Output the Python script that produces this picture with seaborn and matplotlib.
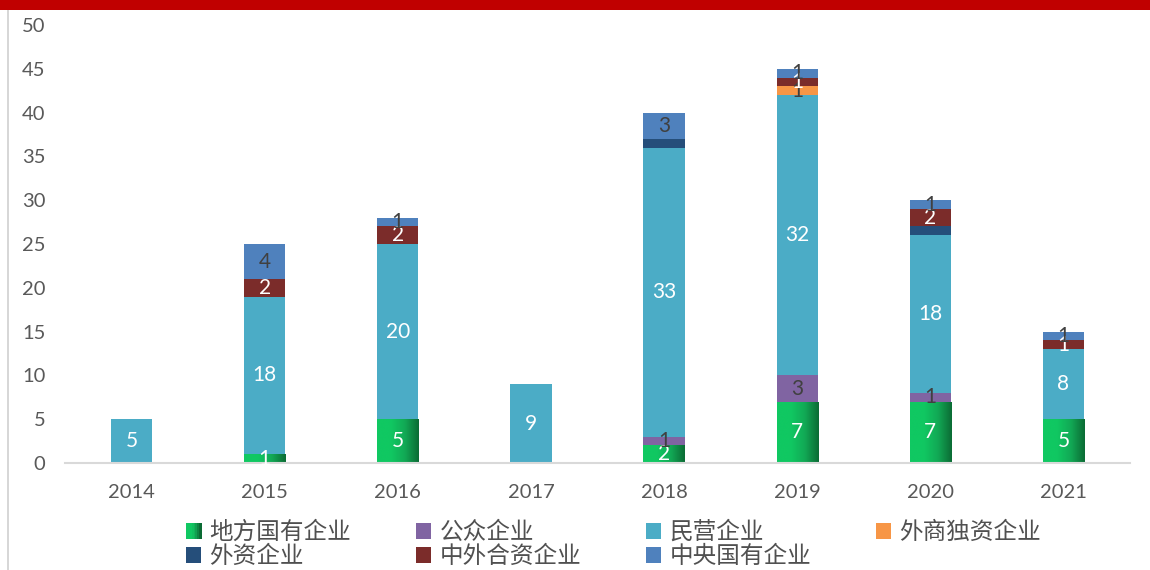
import numpy as np
import matplotlib
matplotlib.use("Agg")
import matplotlib.pyplot as plt
from matplotlib.patches import Rectangle, Patch
from matplotlib.lines import Line2D
from matplotlib.legend_handler import HandlerPatch
import seaborn as sns

# ---- data -------------------------------------------------------------
years = ["2014", "2015", "2016", "2017", "2018", "2019", "2020", "2021"]
series_names = ["地方国有企业", "公众企业", "民营企业", "外商独资企业",
                "外资企业", "中外合资企业", "中央国有企业"]
local_soe   = [0, 1, 5, 0, 2, 7, 7, 5]
public_co   = [0, 0, 0, 0, 1, 3, 1, 0]
private_co  = [5, 18, 20, 9, 33, 32, 18, 8]
wfoe        = [0, 0, 0, 0, 0, 1, 0, 0]
foreign_co  = [0, 0, 0, 0, 1, 0, 1, 0]
jv_co       = [0, 2, 2, 0, 0, 1, 2, 1]
central_soe = [0, 4, 1, 0, 3, 1, 1, 1]
y_ticks = [0, 5, 10, 15, 20, 25, 30, 35, 40, 45, 50]

series_values = [local_soe, public_co, private_co, wfoe, foreign_co, jv_co, central_soe]
colors = ["#12B85A", "#8064A2", "#4BACC6", "#F79646", "#254E7A", "#7B2C2A", "#4F81BD"]
label_colors = ["white", "#404040", "white", "#404040", "white", "white", "#404040"]
show_label = [True, True, True, True, False, True, True]

# ---- style ------------------------------------------------------------
sns.set_theme(style="white")
plt.rcParams["font.family"] = ["Lato", "Noto Sans CJK SC", "DejaVu Sans"]

fig = plt.figure(figsize=(11.5, 5.7), dpi=100)
ax = fig.add_axes([65 / 1150, 1 - 463 / 570, (1130 - 65) / 1150, (463 - 25) / 570])

# red title band and frame edge
fig.patches.append(Rectangle((0, 1 - 10 / 570), 1, 10 / 570, transform=fig.transFigure,
                             facecolor="#C00000", edgecolor="none", zorder=5))
fig.lines.append(Line2D([7.5 / 1150, 7.5 / 1150], [0, 1 - 10 / 570], transform=fig.transFigure,
                        color="#D0D0D0", linewidth=1.2))

# ---- stacked bars -----------------------------------------------------
bottom = np.zeros(len(years))
bar_width = 0.31
containers = []
for name, vals, col in zip(series_names, series_values, colors):
    vals = np.asarray(vals, dtype=float)
    sns.barplot(x=years, y=vals, bottom=bottom, color=col, width=bar_width,
                order=years, ax=ax, edgecolor="none", linewidth=0, saturation=1,
                errorbar=None, zorder=2)
    containers.append(ax.containers[-1])
    bottom = bottom + vals

# horizontal gradient on the green segments
grad_cmap = matplotlib.colors.LinearSegmentedColormap.from_list(
    "grn", ["#10C862", "#10C862", "#12A955", "#0B6B34"])
grad = np.linspace(0, 1, 256).reshape(1, -1)
for patch in containers[0]:
    h = patch.get_height()
    if h <= 0:
        continue
    x0 = patch.get_x()
    w = patch.get_width()
    y0 = patch.get_y()
    im = ax.imshow(grad, extent=[x0, x0 + w, y0, y0 + h], aspect="auto",
                   cmap=grad_cmap, zorder=2.5, interpolation="bicubic")
    im.set_clip_path(patch)

# value labels
for cont, vals, lc, show in zip(containers, series_values, label_colors, show_label):
    if not show:
        continue
    for patch, v in zip(cont, vals):
        if v <= 0:
            continue
        cx = patch.get_x() + patch.get_width() / 2
        cy = patch.get_y() + patch.get_height() / 2
        ax.text(cx, cy, f"{v}", ha="center", va="center", color=lc,
                fontsize=15, zorder=4)

# ---- axes -------------------------------------------------------------
ax.set_xlim(-0.5, len(years) - 0.5)
ax.set_ylim(0, 50)
ax.set_yticks(y_ticks)
ax.set_yticklabels([str(t) for t in y_ticks])
ax.set_xlabel("")
ax.set_ylabel("")
ax.tick_params(axis="both", length=0, labelsize=14.5, labelcolor="#595959")
ax.tick_params(axis="y", pad=14)
ax.tick_params(axis="x", pad=15)
for s in ["top", "right", "left"]:
    ax.spines[s].set_visible(False)
ax.spines["bottom"].set_color("#D9D9D9")
ax.spines["bottom"].set_linewidth(1.5)
ax.set_facecolor("white")
ax.grid(False)


# ---- legend -----------------------------------------------------------
class GradientHandler(HandlerPatch):
    def create_artists(self, legend, orig_handle, xdescent, ydescent, width, height,
                       fontsize, trans):
        arts = []
        n = 8
        cols = grad_cmap(np.linspace(0, 1, n))
        for i in range(n):
            r = Rectangle((-xdescent + width * i / n, -ydescent), width / n + 0.3, height,
                          facecolor=cols[i], edgecolor="none", transform=trans)
            arts.append(r)
        return arts


handles = [Patch(facecolor=c, edgecolor="none") for c in colors]
order = [0, 4, 1, 5, 2, 6, 3]
leg_handles = [handles[i] for i in order]
leg_labels = [series_names[i] for i in order]
fig.legend(leg_handles, leg_labels, ncol=4, loc="upper left",
           bbox_to_anchor=(186 / 1150, 1 - 521 / 570), frameon=False,
           prop={"family": ["Noto Sans CJK SC"], "size": 17},
           labelcolor="#505050", handlelength=0.64, handleheight=0.64,
           handletextpad=0.35, columnspacing=2.75, labelspacing=0.06,
           borderpad=0, borderaxespad=0,
           handler_map={handles[0]: GradientHandler()})

fig.savefig("out.png", dpi=100, facecolor="white")
